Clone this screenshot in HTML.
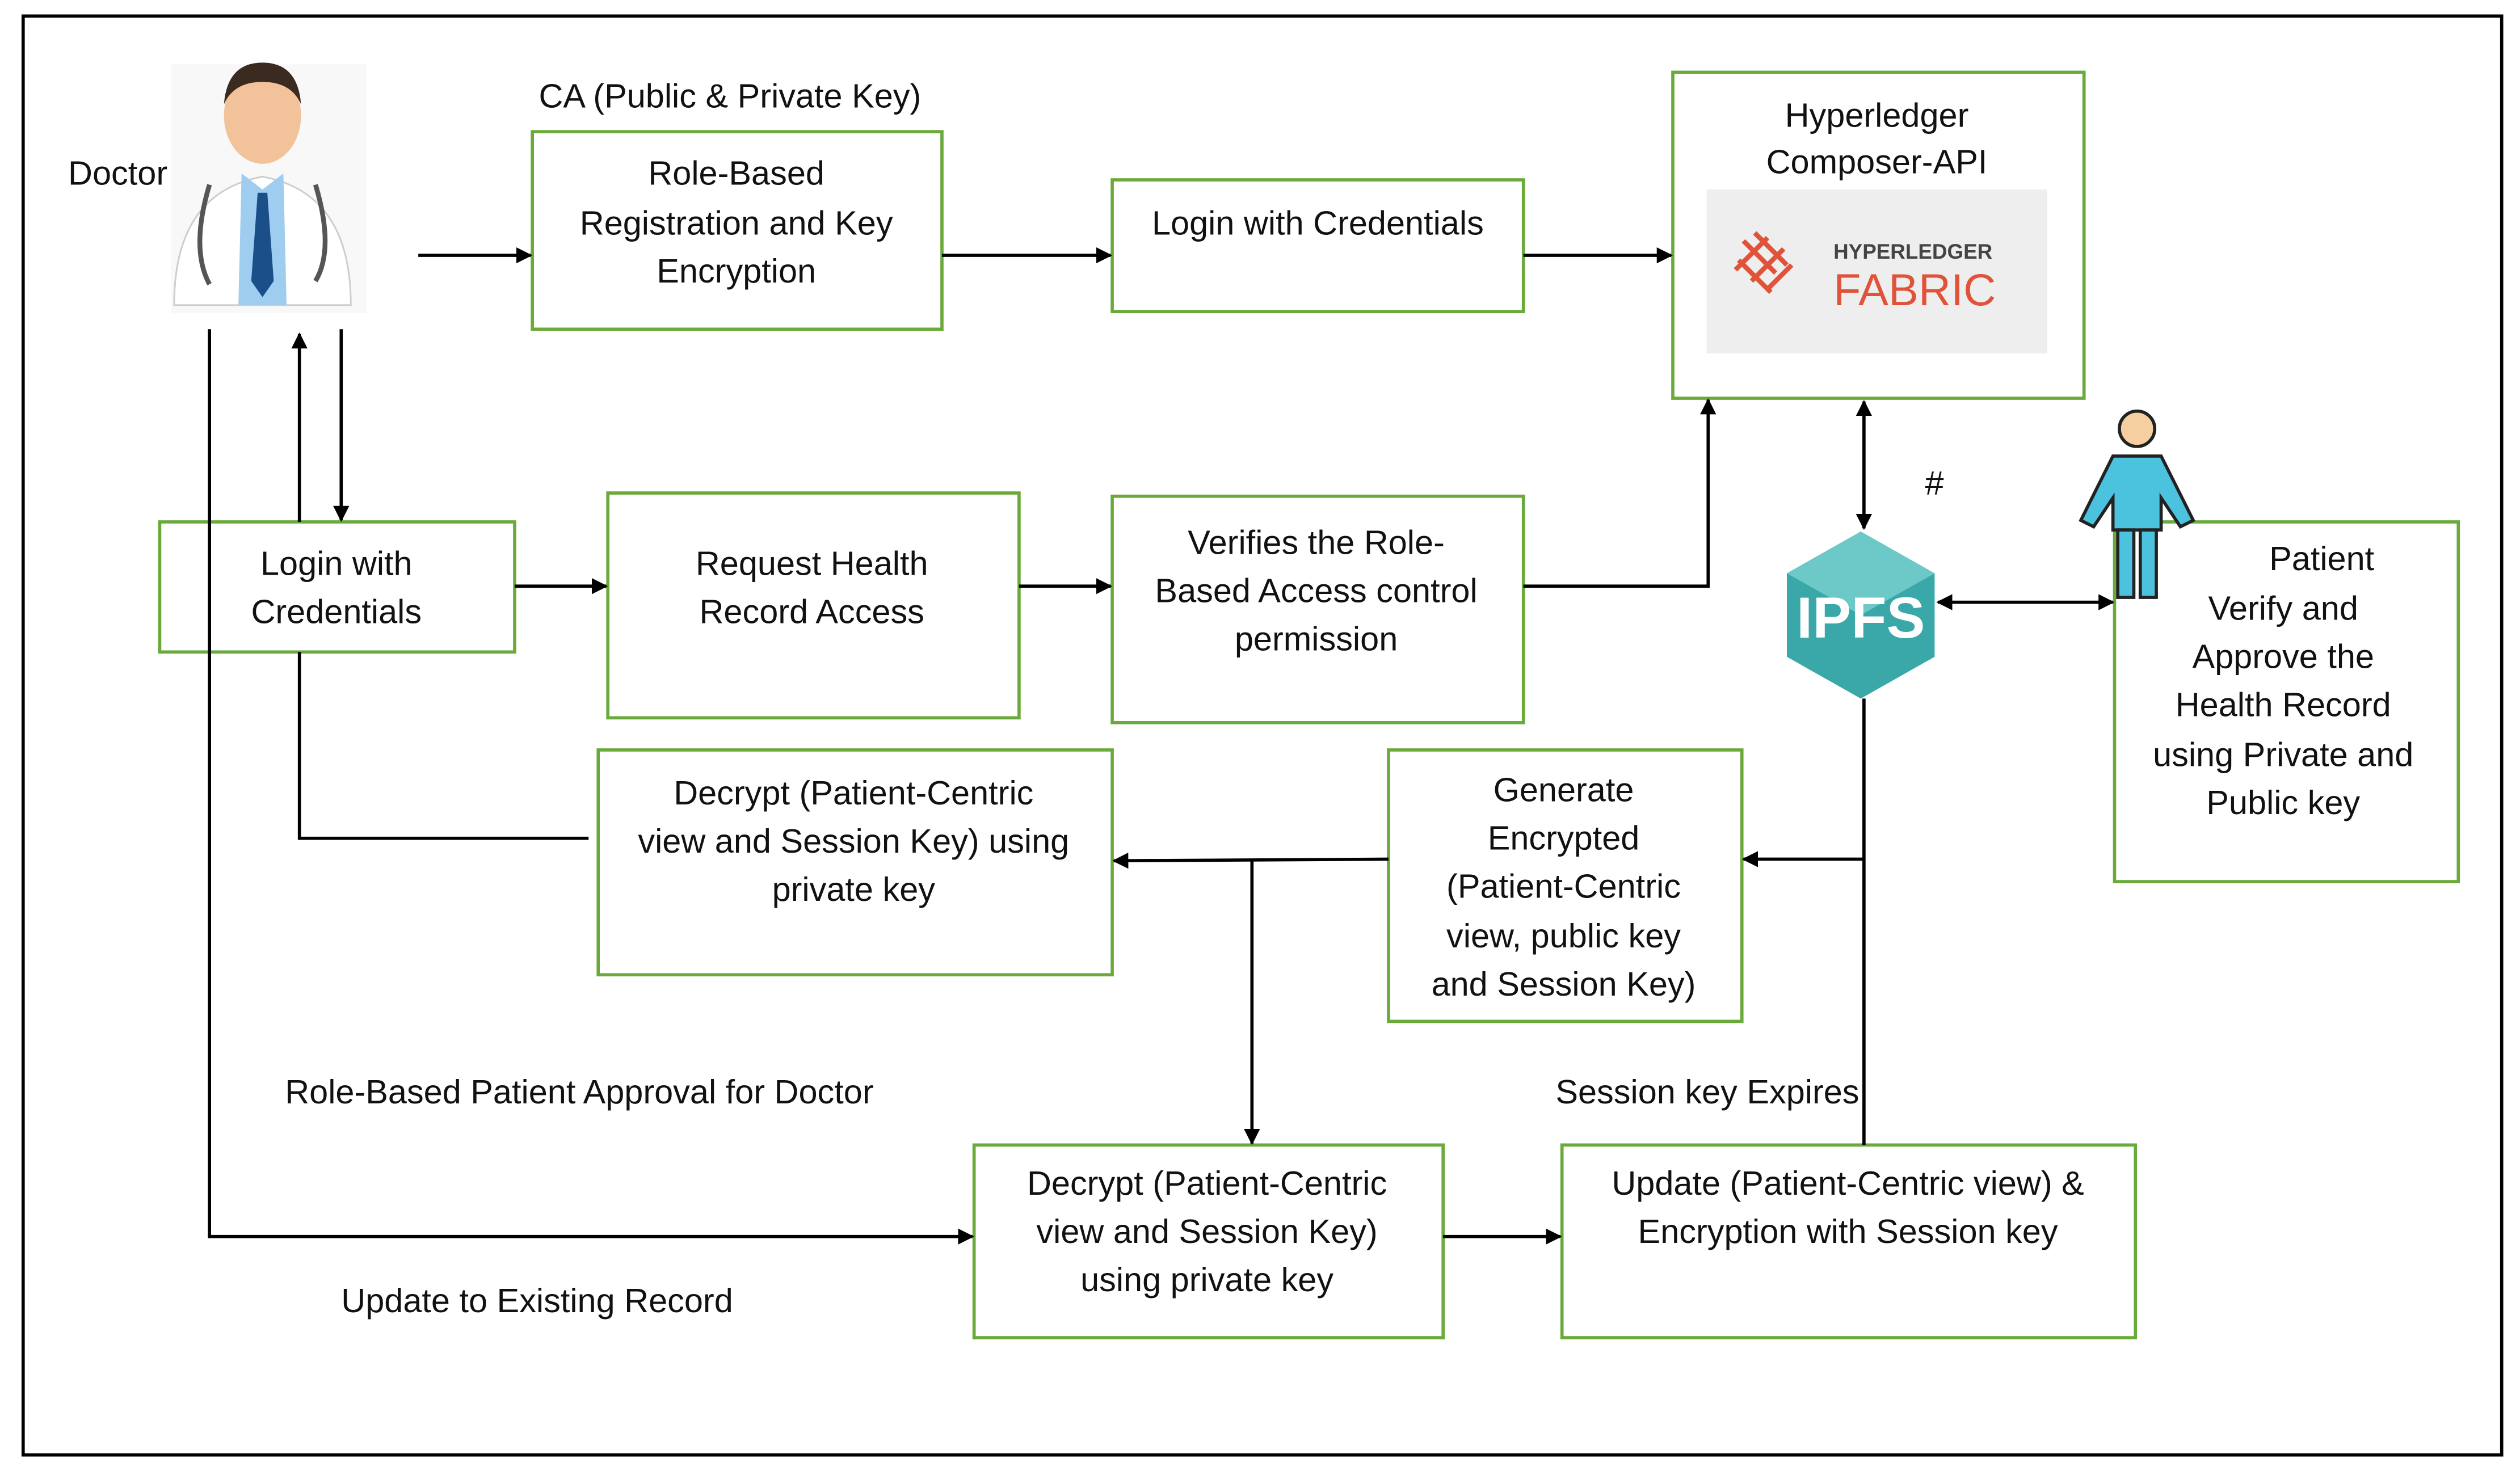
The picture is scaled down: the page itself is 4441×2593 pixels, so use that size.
<!DOCTYPE html>
<html><head><meta charset="utf-8"><style>
html,body{margin:0;padding:0;background:#fff;}
svg{display:block;}
text{font-family:"Liberation Sans",sans-serif;font-size:21px;fill:#111;}
.b{fill:#fff;stroke:#6aaa3a;stroke-width:2;}
.l{stroke:#000;stroke-width:2;fill:none;}
</style></head><body>
<svg width="4441" height="2593" viewBox="0 0 1568 916" xmlns="http://www.w3.org/2000/svg">
<defs><marker id="a" markerWidth="10" markerHeight="10" refX="9" refY="5" orient="auto-start-reverse" markerUnits="userSpaceOnUse"><path d="M0,0 L10,5 L0,10 z" fill="#000"/></marker></defs>
<rect x="0" y="0" width="1568" height="916" fill="#fff"/>
<rect x="14" y="10" width="1543" height="896" fill="none" stroke="#000" stroke-width="2"/>

<rect class="b" x="331" y="82" width="255" height="123"/>
<rect class="b" x="692" y="112" width="256" height="82"/>
<rect class="b" x="1041" y="45" width="256" height="203"/>
<rect class="b" x="99" y="325" width="221" height="81"/>
<rect class="b" x="378" y="307" width="256" height="140"/>
<rect class="b" x="692" y="309" width="256" height="141"/>
<rect class="b" x="372" y="467" width="320" height="140"/>
<rect class="b" x="864" y="467" width="220" height="169"/>
<rect class="b" x="1316" y="325" width="214" height="224"/>
<rect class="b" x="606" y="713" width="292" height="120"/>
<rect class="b" x="972" y="713" width="357" height="120"/>

<g text-anchor="middle">
<text x="458" y="115">Role-Based</text><text x="458" y="146">Registration and Key</text><text x="458" y="176">Encryption</text>
<text x="820" y="146">Login with Credentials</text>
<text x="1168" y="79">Hyperledger</text><text x="1168" y="108">Composer-API</text>
<text x="209" y="358">Login with</text><text x="209" y="388">Credentials</text>
<text x="505" y="358">Request Health</text><text x="505" y="388">Record Access</text>
<text x="819" y="345">Verifies the Role-</text><text x="819" y="375">Based Access control</text><text x="819" y="405">permission</text>
<text x="531" y="501">Decrypt (Patient-Centric</text><text x="531" y="531">view and Session Key) using</text><text x="531" y="561">private key</text>
<text x="973" y="499">Generate</text><text x="973" y="529">Encrypted</text><text x="973" y="559">(Patient-Centric</text><text x="973" y="590">view, public key</text><text x="973" y="620">and Session Key)</text>
<text x="1445" y="355">Patient</text><text x="1421" y="386">Verify and</text><text x="1421" y="416">Approve the</text><text x="1421" y="446">Health Record</text><text x="1421" y="477">using Private and</text><text x="1421" y="507">Public key</text>
<text x="751" y="744">Decrypt (Patient-Centric</text><text x="751" y="774">view and Session Key)</text><text x="751" y="804">using private key</text>
<text x="1150" y="744">Update (Patient-Centric view) &amp;</text><text x="1150" y="774">Encryption with Session key</text>
</g>
<text x="335" y="67">CA (Public &amp; Private Key)</text>
<text x="1198" y="308">#</text>
<text x="177" y="687">Role-Based Patient Approval for Doctor</text>
<text x="968" y="687">Session key Expires</text>
<text x="212" y="817">Update to Existing Record</text>

<rect x="1062" y="118" width="212" height="102" fill="#eeeeee"/>
<g stroke="#e0533a" stroke-width="3" fill="none">
<path d="M1085,150 l20,20 M1092,145 l20,20 M1082,162 l20,20 M1100,148 l-20,20 M1110,155 l-20,20 M1115,165 l-15,15"/>
</g>
<text x="1141" y="161" style="font-size:13px;font-weight:bold;fill:#444">HYPERLEDGER</text>
<text x="1141" y="190" style="font-size:28px;fill:#e0533a">FABRIC</text>

<polygon points="1158,331 1204,357 1204,409 1158,435 1112,409 1112,357" fill="#3aa7a8"/>
<polygon points="1158,331 1204,357 1158,383 1112,357" fill="#6cc9c8"/>
<text x="1158" y="397" text-anchor="middle" style="font-size:36px;font-weight:bold;fill:#fff">IPFS</text>

<rect x="106" y="40" width="122" height="155" fill="#f8f8f8"/>
<ellipse cx="163" cy="72" rx="24" ry="30" fill="#f2c29a"/>
<path d="M139,65 q2,-26 24,-26 q22,0 24,26 q-6,-14 -24,-14 q-18,0 -24,14z" fill="#3b2a20"/>
<path d="M108,190 q0,-70 55,-80 q55,10 55,80z" fill="#ffffff" stroke="#ccc"/>
<path d="M150,108 l13,10 l13,-10 l2,82 h-30z" fill="#9ecdf0"/>
<path d="M160,120 h6 l4,55 l-7,10 l-7,-10z" fill="#1a4f8a"/>
<path d="M130,115 q-12,40 0,62 M196,115 q12,40 0,60" stroke="#555" stroke-width="3" fill="none"/>
<text x="42" y="115">Doctor</text>

<circle cx="1330" cy="267" r="11" fill="#f5cfa0" stroke="#222" stroke-width="2"/>
<path d="M1315,284 h30 l20,40 l-8,4 l-12,-18 v20 h-30 v-20 l-12,18 l-8,-4z" fill="#4cc3de" stroke="#222" stroke-width="2"/>
<rect x="1318" y="330" width="10" height="42" fill="#4cc3de" stroke="#222" stroke-width="2"/>
<rect x="1332" y="330" width="10" height="42" fill="#4cc3de" stroke="#222" stroke-width="2"/>

<line class="l" x1="260" y1="159" x2="330" y2="159" marker-end="url(#a)"/>
<line class="l" x1="586" y1="159" x2="691" y2="159" marker-end="url(#a)"/>
<line class="l" x1="948" y1="159" x2="1040" y2="159" marker-end="url(#a)"/>
<line class="l" x1="186" y1="325" x2="186" y2="208" marker-end="url(#a)"/>
<line class="l" x1="212" y1="205" x2="212" y2="324" marker-end="url(#a)"/>
<polyline class="l" points="130,205 130,770 605,770" marker-end="url(#a)"/>
<line class="l" x1="320" y1="365" x2="377" y2="365" marker-end="url(#a)"/>
<line class="l" x1="634" y1="365" x2="691" y2="365" marker-end="url(#a)"/>
<polyline class="l" points="948,365 1063,365 1063,249" marker-end="url(#a)"/>
<line class="l" x1="1160" y1="250" x2="1160" y2="329" marker-start="url(#a)" marker-end="url(#a)"/>
<line class="l" x1="1206" y1="375" x2="1315" y2="375" marker-start="url(#a)" marker-end="url(#a)"/>
<line class="l" x1="1160" y1="435" x2="1160" y2="713"/>
<line class="l" x1="1160" y1="535" x2="1085" y2="535" marker-end="url(#a)"/>
<line class="l" x1="864" y1="535" x2="693" y2="536" marker-end="url(#a)"/>
<line class="l" x1="779" y1="536" x2="779" y2="712" marker-end="url(#a)"/>
<polyline class="l" points="186,406 186,522 366,522"/>
<line class="l" x1="898" y1="770" x2="971" y2="770" marker-end="url(#a)"/>
</svg>
</body></html>
